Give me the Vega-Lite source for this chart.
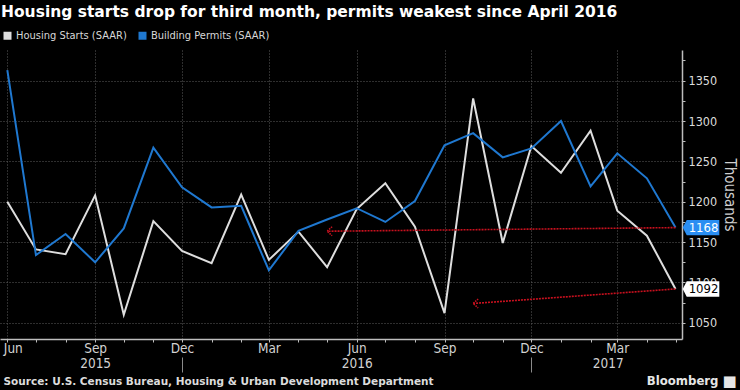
{
  "$schema": "https://vega.github.io/schema/vega-lite/v6.json",
  "width": 682,
  "height": 289,
  "autosize": {"type": "none"},
  "padding": {"top": 50, "left": 0, "right": 58, "bottom": 51},
  "background": "#000000",
  "title": {
    "text": "Housing starts drop for third month, permits weakest since April 2016",
    "anchor": "start",
    "frame": "group",
    "font": "DejaVu Sans",
    "fontSize": 15.5,
    "fontWeight": "bold",
    "color": "#ffffff",
    "baseline": "alphabetic",
    "offset": 5,
    "dy": 7,
    "dx": 1
  },
  "datasets": {
    "series": [
      {"date": "2015-06-01", "series": "Housing Starts (SAAR)", "value": 1200},
      {"date": "2015-07-01", "series": "Housing Starts (SAAR)", "value": 1141},
      {"date": "2015-08-01", "series": "Housing Starts (SAAR)", "value": 1135},
      {"date": "2015-09-01", "series": "Housing Starts (SAAR)", "value": 1208},
      {"date": "2015-10-01", "series": "Housing Starts (SAAR)", "value": 1060},
      {"date": "2015-11-01", "series": "Housing Starts (SAAR)", "value": 1176},
      {"date": "2015-12-01", "series": "Housing Starts (SAAR)", "value": 1139},
      {"date": "2016-01-01", "series": "Housing Starts (SAAR)", "value": 1124},
      {"date": "2016-02-01", "series": "Housing Starts (SAAR)", "value": 1209},
      {"date": "2016-03-01", "series": "Housing Starts (SAAR)", "value": 1128},
      {"date": "2016-04-01", "series": "Housing Starts (SAAR)", "value": 1163},
      {"date": "2016-05-01", "series": "Housing Starts (SAAR)", "value": 1119},
      {"date": "2016-06-01", "series": "Housing Starts (SAAR)", "value": 1191},
      {"date": "2016-07-01", "series": "Housing Starts (SAAR)", "value": 1223},
      {"date": "2016-08-01", "series": "Housing Starts (SAAR)", "value": 1169},
      {"date": "2016-09-01", "series": "Housing Starts (SAAR)", "value": 1062},
      {"date": "2016-10-01", "series": "Housing Starts (SAAR)", "value": 1328},
      {"date": "2016-11-01", "series": "Housing Starts (SAAR)", "value": 1149},
      {"date": "2016-12-01", "series": "Housing Starts (SAAR)", "value": 1269},
      {"date": "2017-01-01", "series": "Housing Starts (SAAR)", "value": 1236},
      {"date": "2017-02-01", "series": "Housing Starts (SAAR)", "value": 1288},
      {"date": "2017-03-01", "series": "Housing Starts (SAAR)", "value": 1189},
      {"date": "2017-04-01", "series": "Housing Starts (SAAR)", "value": 1158},
      {"date": "2017-05-01", "series": "Housing Starts (SAAR)", "value": 1092},
      {"date": "2015-06-01", "series": "Building Permits (SAAR)", "value": 1363},
      {"date": "2015-07-01", "series": "Building Permits (SAAR)", "value": 1134},
      {"date": "2015-08-01", "series": "Building Permits (SAAR)", "value": 1160},
      {"date": "2015-09-01", "series": "Building Permits (SAAR)", "value": 1125},
      {"date": "2015-10-01", "series": "Building Permits (SAAR)", "value": 1167},
      {"date": "2015-11-01", "series": "Building Permits (SAAR)", "value": 1267},
      {"date": "2015-12-01", "series": "Building Permits (SAAR)", "value": 1218},
      {"date": "2016-01-01", "series": "Building Permits (SAAR)", "value": 1193},
      {"date": "2016-02-01", "series": "Building Permits (SAAR)", "value": 1195},
      {"date": "2016-03-01", "series": "Building Permits (SAAR)", "value": 1115},
      {"date": "2016-04-01", "series": "Building Permits (SAAR)", "value": 1164},
      {"date": "2016-05-01", "series": "Building Permits (SAAR)", "value": 1178},
      {"date": "2016-06-01", "series": "Building Permits (SAAR)", "value": 1192},
      {"date": "2016-07-01", "series": "Building Permits (SAAR)", "value": 1175},
      {"date": "2016-08-01", "series": "Building Permits (SAAR)", "value": 1201},
      {"date": "2016-09-01", "series": "Building Permits (SAAR)", "value": 1270},
      {"date": "2016-10-01", "series": "Building Permits (SAAR)", "value": 1285},
      {"date": "2016-11-01", "series": "Building Permits (SAAR)", "value": 1255},
      {"date": "2016-12-01", "series": "Building Permits (SAAR)", "value": 1266},
      {"date": "2017-01-01", "series": "Building Permits (SAAR)", "value": 1300},
      {"date": "2017-02-01", "series": "Building Permits (SAAR)", "value": 1219},
      {"date": "2017-03-01", "series": "Building Permits (SAAR)", "value": 1260},
      {"date": "2017-04-01", "series": "Building Permits (SAAR)", "value": 1229},
      {"date": "2017-05-01", "series": "Building Permits (SAAR)", "value": 1168}
    ],
    "arrows": [
      {"date": "2017-05-01", "date2": "2016-05-01", "value": 1168, "value2": 1163.5},
      {"date": "2017-05-01", "date2": "2016-10-01", "value": 1092, "value2": 1074}
    ],
    "tags": [
      {"date": "2017-05-01", "value": 1168, "label": "1168", "kind": "permits"},
      {"date": "2017-05-01", "value": 1092, "label": "1092", "kind": "starts"}
    ]
  },
  "resolve": {"axis": {"x": "independent", "y": "independent"}},
  "layer": [
    {
      "data": {"name": "series"},
      "mark": {"type": "line", "strokeWidth": 2, "clip": true},
      "encoding": {
        "x": {
          "field": "date",
          "type": "temporal",
          "scale": {
            "type": "utc",
            "domain": [
              {"year": 2015, "month": 5, "date": 24, "hours": 8, "utc": true},
              {"year": 2017, "month": 5, "date": 7, "hours": 19, "utc": true}
            ]
          },
          "axis": {
            "orient": "bottom",
            "tickCount": {"interval": "month", "step": 1},
            "labelExpr": "utcmonth(datum.value) % 3 == 2 ? utcFormat(datum.value, '%b') : ''",
            "labelFlush": 12,
            "labelFlushOffset": 4,
            "labelOverlap": false,
            "labelBound": false,
            "labelFont": "DejaVu Sans Condensed",
            "labelFontSize": 13.5,
            "labelColor": "#d2d2d2",
            "labelBaseline": "middle",
            "labelPadding": 6,
            "ticks": true,
            "tickSize": 3,
            "tickColor": "#bdbdbd",
            "domain": true,
            "domainColor": "#bdbdbd",
            "domainWidth": 1.5,
            "grid": true,
            "gridColor": "#5c5c5c",
            "gridDash": [1, 2],
            "gridOpacity": {"condition": {"test": "utcmonth(datum.value) % 3 == 2", "value": 1}, "value": 0},
            "title": "Source: U.S. Census Bureau, Housing & Urban Development Department",
            "titleFont": "DejaVu Sans",
            "titleFontSize": 10.5,
            "titleFontWeight": "bold",
            "titleColor": "#dcdcdc",
            "titleAnchor": "start",
            "titleAlign": "left",
            "titleBaseline": "middle",
            "titleX": 3,
            "titleY": 42
          }
        },
        "y": {
          "field": "value",
          "type": "quantitative",
          "scale": {"domain": [1030, 1388], "nice": false, "zero": false},
          "axis": {
            "orient": "right",
            "values": [1050, 1075, 1100, 1125, 1150, 1175, 1200, 1225, 1250, 1275, 1300, 1325, 1350, 1375],
            "labelExpr": "datum.value % 50 == 0 ? datum.label : ''",
            "format": "d",
            "labelFont": "DejaVu Sans Condensed",
            "labelFontSize": 12.5,
            "labelColor": "#dcdcdc",
            "labelPadding": 3,
            "tickSize": 3,
            "tickColor": "#bdbdbd",
            "domainColor": "#bdbdbd",
            "domainWidth": 1.5,
            "grid": true,
            "gridColor": "#5c5c5c",
            "gridDash": [1, 2],
            "gridOpacity": {"condition": {"test": "datum.value % 50 == 0", "value": 1}, "value": 0},
            "title": "Thousands",
            "titleFont": "DejaVu Sans Condensed",
            "titleFontSize": 15,
            "titleFontWeight": "normal",
            "titleColor": "#cfcfcf",
            "titlePadding": 5
          }
        },
        "color": {
          "field": "series",
          "type": "nominal",
          "scale": {
            "domain": ["Housing Starts (SAAR)", "Building Permits (SAAR)"],
            "range": ["#dedede", "#1f78d0"]
          },
          "legend": {
            "orient": "none",
            "legendX": 2,
            "legendY": -20,
            "direction": "horizontal",
            "title": null,
            "symbolType": "square",
            "symbolSize": 64,
            "labelFont": "DejaVu Sans Condensed",
            "labelFontSize": 11,
            "labelColor": "#d8d8d8",
            "labelOffset": 3,
            "columnPadding": 10,
            "encode": {
              "symbols": {
                "update": {
                  "fill": {"scale": "color", "field": "value"},
                  "fillOpacity": {"value": 1},
                  "strokeWidth": {"value": 0}
                }
              }
            }
          }
        }
      }
    },
    {
      "data": {"name": "arrows"},
      "mark": {"type": "rule", "color": "#c8101e", "strokeWidth": 1.6, "strokeDash": [2, 1]},
      "encoding": {
        "x": {
          "field": "date",
          "type": "temporal",
          "axis": {
            "orient": "bottom",
            "values": [
              {"year": 2015, "month": 9, "date": 1, "utc": true},
              {"year": 2016, "month": 6, "date": 1, "utc": true},
              {"year": 2017, "month": 2, "date": 19, "utc": true}
            ],
            "labelExpr": "utcFormat(datum.value, '%Y')",
            "labelFont": "DejaVu Sans Condensed",
            "labelFontSize": 13.5,
            "labelColor": "#d2d2d2",
            "labelBaseline": "middle",
            "labelPadding": 24,
            "labelOverlap": false,
            "labelBound": false,
            "ticks": false,
            "tickSize": 0,
            "domain": false,
            "grid": false,
            "title": "Bloomberg",
            "titleFont": "DejaVu Sans Condensed",
            "titleFontSize": 13,
            "titleFontWeight": "bold",
            "titleColor": "#e6e6e6",
            "titleAnchor": "end",
            "titleAlign": "right",
            "titleBaseline": "middle",
            "titleX": 718,
            "titleY": 41
          }
        },
        "x2": {"field": "date2"},
        "y": {"field": "value", "type": "quantitative", "axis": null},
        "y2": {"field": "value2"}
      }
    },
    {
      "data": {"name": "arrows"},
      "mark": {"type": "point", "shape": "M2,-1.8L0,0L2,1.8", "size": 25, "filled": false, "stroke": "#c8101e", "strokeWidth": 1.5, "strokeDash": [1.5, 1], "opacity": 1},
      "encoding": {
        "x": {
          "field": "date2",
          "type": "temporal",
          "axis": {
            "orient": "bottom",
            "values": [
              {"year": 2015, "month": 12, "date": 1, "utc": true},
              {"year": 2016, "month": 12, "date": 1, "utc": true}
            ],
            "labels": false,
            "ticks": true,
            "tickSize": 15,
            "tickColor": "#8a8a8a",
            "tickWidth": 1,
            "offset": 18,
            "domain": false,
            "grid": false,
            "title": "■",
            "titleFont": "DejaVu Sans",
            "titleFontSize": 15,
            "titleColor": "#e6e6e6",
            "titleAlign": "center",
            "titleAnchor": "end",
            "titleBaseline": "middle",
            "titleX": 729,
            "titleY": 23
          }
        },
        "y": {"field": "value2", "type": "quantitative", "axis": null}
      }
    },
    {
      "data": {"name": "tags"},
      "mark": {"type": "point", "shape": "M-1,0L-0.78,-0.42L1,-0.42L1,0.42L-0.78,0.42Z", "size": 1340, "filled": true, "opacity": 1, "xOffset": 25.5, "strokeWidth": 0},
      "encoding": {
        "x": {"field": "date", "type": "temporal", "axis": null},
        "y": {"field": "value", "type": "quantitative", "axis": null},
        "fill": {"condition": {"test": "datum.kind == 'permits'", "value": "#2a8ef2"}, "value": "#ffffff"}
      }
    },
    {
      "data": {"name": "tags"},
      "mark": {"type": "text", "font": "DejaVu Sans Condensed", "fontSize": 13, "xOffset": 28, "align": "center", "baseline": "middle"},
      "encoding": {
        "x": {"field": "date", "type": "temporal", "axis": null},
        "y": {"field": "value", "type": "quantitative", "axis": null},
        "text": {"field": "label"},
        "color": {"condition": {"test": "datum.kind == 'permits'", "value": "#ffffff"}, "value": "#000000"}
      }
    }
  ],
  "config": {
    "view": {"stroke": null},
    "font": "DejaVu Sans Condensed"
  }
}
